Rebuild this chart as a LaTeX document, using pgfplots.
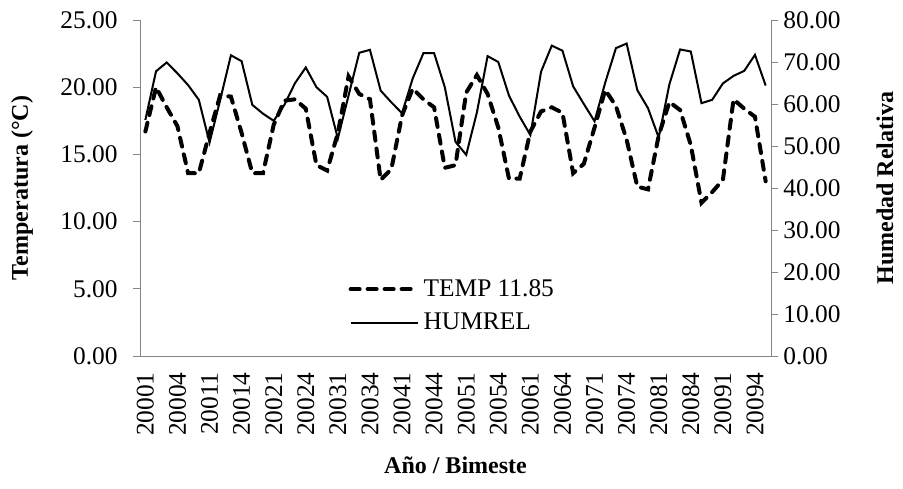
\documentclass[border=0pt]{standalone}
\usepackage{fontspec}
\setmainfont{Liberation Serif}
\usepackage{pgfplots}
\pgfplotsset{compat=1.18}
\usepackage{pgfplotstable}
\definecolor{axgray}{HTML}{868686}

\pgfplotstableread{
x temp hum
0 16.7 56.2
1 20.0 67.8
2 18.5 69.9
3 17.1 67.3
4 13.6 64.5
5 13.6 61.0
6 16.6 50.8
7 19.4 61.0
8 19.3 71.6
9 16.6 70.2
10 13.6 59.8
11 13.6 57.7
12 17.2 56.0
13 19.0 59.8
14 19.1 65.0
15 18.4 68.7
16 14.2 64.0
17 13.8 61.7
18 16.6 51.8
19 20.8 62.0
20 19.5 72.2
21 19.1 72.9
22 13.1 63.2
23 13.9 60.4
24 17.9 57.8
25 19.9 66.1
26 19.1 72.1
27 18.5 72.1
28 14.0 64.0
29 14.2 51.0
30 19.6 47.9
31 20.9 58.0
32 19.5 71.4
33 17.0 70.0
34 13.2 62.0
35 13.2 57.0
36 16.7 52.6
37 18.2 67.7
38 18.5 73.9
39 18.1 72.7
40 13.6 64.2
41 14.3 60.0
42 17.0 55.9
43 19.8 65.1
44 18.6 73.3
45 16.1 74.4
46 12.6 63.3
47 12.4 59.0
48 16.4 52.0
49 18.9 64.7
50 18.3 73.0
51 15.7 72.5
52 11.4 60.2
53 12.2 61.0
54 13.1 64.9
55 19.1 66.7
56 18.4 67.9
57 17.8 71.7
58 13.0 64.4
}\data

\pgfplotsset{
  common/.style={
    width=315.5pt, height=168pt, scale only axis,
    xmin=-0.5, xmax=58.5,
    tick align=outside,
    major tick length=3.5pt,
    every tick/.style={axgray, line width=0.5pt},
    axis line style={axgray, line width=0.5pt},
    tick label style={font=\fontsize{12.7}{15}\selectfont},
    label style={font=\fontsize{12}{14}\selectfont\bfseries},
    /pgf/number format/.cd, fixed, fixed zerofill, precision=2, assume math mode=true,
    /pgfplots/.cd,
  },
}

\begin{document}
\begin{tikzpicture}
\begin{axis}[common, name=ax,
  ymin=0, ymax=25,
  axis x line*=bottom, axis y line*=left,
  ytick={0,5,...,25},
  xtick={0,3,...,57},
  xticklabels={20001,20004,20011,20014,20021,20024,20031,20034,20041,20044,20051,20054,20061,20064,20071,20074,20081,20084,20091,20094},
  xticklabel style={rotate=90, anchor=east, inner xsep=4.5pt, inner ysep=0pt},
  x tick style={draw=none},
  yticklabel style={anchor=east, inner xsep=7.5pt, inner ysep=0pt},
  ylabel={Temperatura (°C)},
  ylabel style={at={(axis description cs:-0.187,0.5)}, anchor=center, rotate=0},
  xlabel={Año / Bimeste},
  xlabel style={at={(axis description cs:0.5,-0.324)}, anchor=center},
  legend style={at={(axis description cs:0.33,0.149)}, anchor=west, draw=none, fill=none,
    font=\fontsize{12.7}{15}\selectfont, inner sep=0pt, row sep=3pt,
    cells={anchor=west}},
  legend image code/.code={\draw[#1] (0pt,0pt) -- (33.5pt,0pt);},
]
\addplot[black, line width=2pt, line cap=round, dash pattern=on 4.5pt off 4pt] table[x=x, y=temp] {\data};
\addlegendentry{TEMP 11.85}
\addlegendimage{black, line width=1pt}
\addlegendentry{HUMREL}
\end{axis}
\begin{axis}[common,
  ymin=0, ymax=80,
  axis x line=none, axis y line*=right,
  ytick={0,10,...,80},
  yticklabel style={anchor=west, inner xsep=2.5pt, inner ysep=0pt},
  ylabel={Humedad Relativa},
  ylabel style={at={(axis description cs:1.1807,0.5)}, anchor=center, rotate=0},
]
\addplot[black, line width=1pt] table[x=x, y=hum] {\data};
\end{axis}
\pgfresetboundingbox
\path ([shift={(-70pt,-66pt)}]ax.south west) rectangle ([shift={(66pt,10pt)}]ax.north east);
\end{tikzpicture}
\end{document}
